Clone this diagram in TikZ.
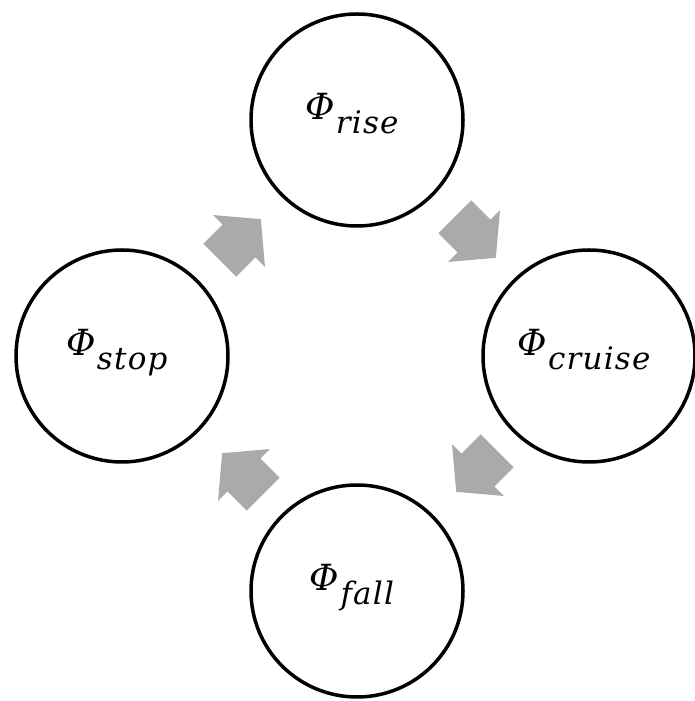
\documentclass[tikz,border=0pt]{standalone}
\usepackage{fontspec}
\usetikzlibrary{shapes.arrows}
\newfontfamily\phifont{DejaVu Serif}
\newfontfamily\subfont[LetterSpace=4]{DejaVu Serif}
\definecolor{arrowgray}{HTML}{AAAAAA}
\newcommand{\phisub}[1]{{\fontsize{36}{40}\selectfont\phifont\itshape Φ}\kern1pt\raisebox{-14pt}{\fontsize{31}{34}\selectfont\subfont\itshape #1}}
\tikzset{
  state/.style={circle, draw=black, line width=3.5pt, minimum size=212pt, inner sep=0pt},
  lbl/.style={anchor=base, inner sep=0pt},
  flow/.style={single arrow, fill=arrowgray, draw=none, inner xsep=0pt, inner ysep=23pt,
    minimum height=58pt, single arrow head extend=13.5pt,
    single arrow tip angle=100, anchor=tip}
}
\begin{document}
\begin{tikzpicture}[x=1pt,y=1pt]
\useasboundingbox (0,0) rectangle (694,701);
\node[state] (rise)   at (357,581) {};
\node[state] (cruise) at (589,345) {};
\node[state] (fall)   at (357,110) {};
\node[state] (stop)   at (122,345) {};
\node[lbl] (trise)   at ([xshift=-5pt]rise.center)   {\phisub{rise}};
\node[lbl] (tcruise) at ([xshift=-5pt]cruise.center) {\phisub{cruise}};
\node[lbl] (tfall)   at ([xshift=-5pt]fall.center)   {\phisub{fall}};
\node[lbl] (tstop)   at ([xshift=-5pt]stop.center)   {\phisub{stop}};
\node[flow, rotate=45]   (a1) at (261,482) {};
\node[flow, rotate=-45]  (a2) at (496,443) {};
\node[flow, rotate=-135] (a3) at (456,209) {};
\node[flow, rotate=135]  (a4) at (222,248) {};
\end{tikzpicture}
\end{document}
